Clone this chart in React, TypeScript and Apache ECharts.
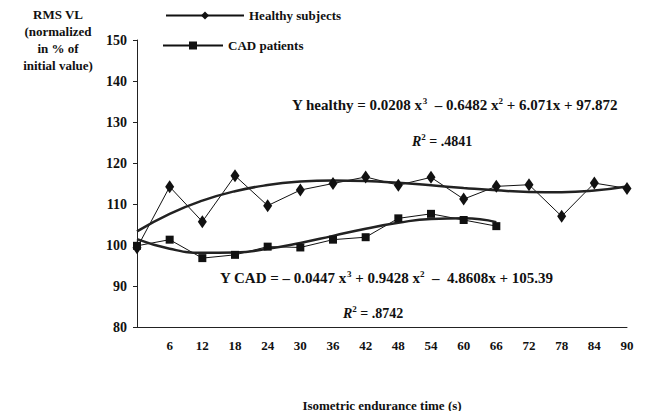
import * as echarts from 'echarts';
import React, { useEffect, useRef } from 'react';

const times = [0, 6, 12, 18, 24, 30, 36, 42, 48, 54, 60, 66, 72, 78, 84, 90];
const healthy = [99.3, 114.2, 105.7, 116.9, 109.6, 113.4, 115, 116.6, 114.6, 116.5, 111.2, 114.3, 114.7, 107, 115.1, 113.8];
const cad = [99.8, 101.3, 96.8, 97.6, 99.6, 99.4, 101.3, 101.9, 106.5, 107.6, 106.1, 104.6];
const healthyFit = [103.32, 107.59, 110.81, 113.12, 114.62, 115.46, 115.74, 115.61, 115.17, 114.56, 113.91, 113.33, 112.95, 112.89, 113.29, 114.27];
const cadFit = [101.43, 99.08, 98.09, 98.17, 99.07, 100.51, 102.23, 103.96, 105.42, 106.36, 106.5, 105.58];

const font = '"Liberation Serif", "Times New Roman", serif';

export default function App(): React.ReactElement {
  const ref = useRef<HTMLDivElement>(null);

  useEffect(() => {
    if (!ref.current) return;
    const chart = echarts.init(ref.current, undefined, { renderer: 'svg' });
    const pair = (ys: number[]) => ys.map((y, i) => [times[i], y]);
    const txt = { fontFamily: font, fontWeight: 'bold', fill: '#111', fontSize: 14 };
    const eq = { ...txt, fontSize: 15 };
    const sup = { ...txt, fontSize: 9, padding: [0, 0, 9, 0] };
    chart.setOption({
      animation: false,
      backgroundColor: '#fff',
      textStyle: { fontFamily: font },
      grid: { left: 137, right: 20, top: 40, bottom: 92 },
      legend: [
        {
          data: ['Healthy subjects'], left: 160, top: 4, itemWidth: 78, itemHeight: 10, itemGap: 6,
          textStyle: { fontFamily: font, fontWeight: 'bold', fontSize: 13, color: '#111' },
        },
        {
          data: ['CAD patients'], left: 157, top: 34, itemWidth: 60, itemHeight: 10,
          textStyle: { fontFamily: font, fontWeight: 'bold', fontSize: 13, color: '#111' },
        },
      ],
      xAxis: {
        type: 'value', min: 0, max: 90, interval: 6,
        axisLine: { lineStyle: { color: '#222' } },
        axisTick: { show: false },
        splitLine: { show: false },
        axisLabel: {
          color: '#111', fontWeight: 'bold', fontSize: 13, fontFamily: font, margin: 12,
          formatter: (v: number) => (v === 0 ? '' : String(v)),
        },
        name: 'Isometric endurance time (s)', nameLocation: 'middle', nameGap: 72,
        nameTextStyle: { color: '#111', fontWeight: 'bold', fontSize: 13, fontFamily: font },
      },
      yAxis: {
        type: 'value', min: 80, max: 150, interval: 10,
        axisLine: { show: true, lineStyle: { color: '#222' } },
        axisTick: { show: true, length: 4 },
        splitLine: { show: false },
        axisLabel: { color: '#111', fontWeight: 'bold', fontSize: 14, fontFamily: font, margin: 10 },
      },
      graphic: [
        { type: 'text', x: 58, y: 6, style: { ...txt, fontSize: 13, text: 'RMS VL\n(normalized\nin % of\ninitial value)', lineHeight: 17, align: 'center' } },
        {
          type: 'text', left: 292, top: 96,
          style: {
            ...eq,
            text: '{n|Y healthy = 0.0208 x}{s|3}{n|  – 0.6482 x}{s|2}{n| + 6.071x + 97.872}',
            rich: { n: eq, s: sup },
          },
        },
        { type: 'text', left: 412, top: 132, style: { ...txt, text: '{i|R}{s|2}{n| = .4841}', rich: { i: { ...txt, fontStyle: 'italic' }, n: txt, s: sup } } },
        {
          type: 'text', left: 220, top: 269,
          style: {
            ...eq,
            text: '{n|Y CAD = – 0.0447 x}{s|3}{n| + 0.9428 x}{s|2}{n|  –  4.8608x + 105.39}',
            rich: { n: eq, s: sup },
          },
        },
        { type: 'text', left: 343, top: 304, style: { ...txt, text: '{i|R}{s|2}{n| = .8742}', rich: { i: { ...txt, fontStyle: 'italic' }, n: txt, s: sup } } },
      ],
      series: [
        {
          name: 'Healthy subjects', type: 'line', data: pair(healthy),
          symbol: 'diamond', symbolSize: [9, 13], itemStyle: { color: '#111' },
          lineStyle: { color: '#111', width: 1 },
        },
        {
          name: 'CAD patients', type: 'line', data: pair(cad),
          symbol: 'rect', symbolSize: 8, itemStyle: { color: '#111' },
          lineStyle: { color: '#111', width: 1 },
        },
        { name: 'fitH', type: 'line', data: pair(healthyFit), smooth: true, symbol: 'none', lineStyle: { color: '#222', width: 2.5 } },
        { name: 'fitC', type: 'line', data: pair(cadFit), smooth: true, symbol: 'none', lineStyle: { color: '#222', width: 2.5 } },
      ],
    });
    return () => chart.dispose();
  }, []);

  return <div ref={ref} style={{ width: 647, height: 419, margin: -8 }} />;
}
